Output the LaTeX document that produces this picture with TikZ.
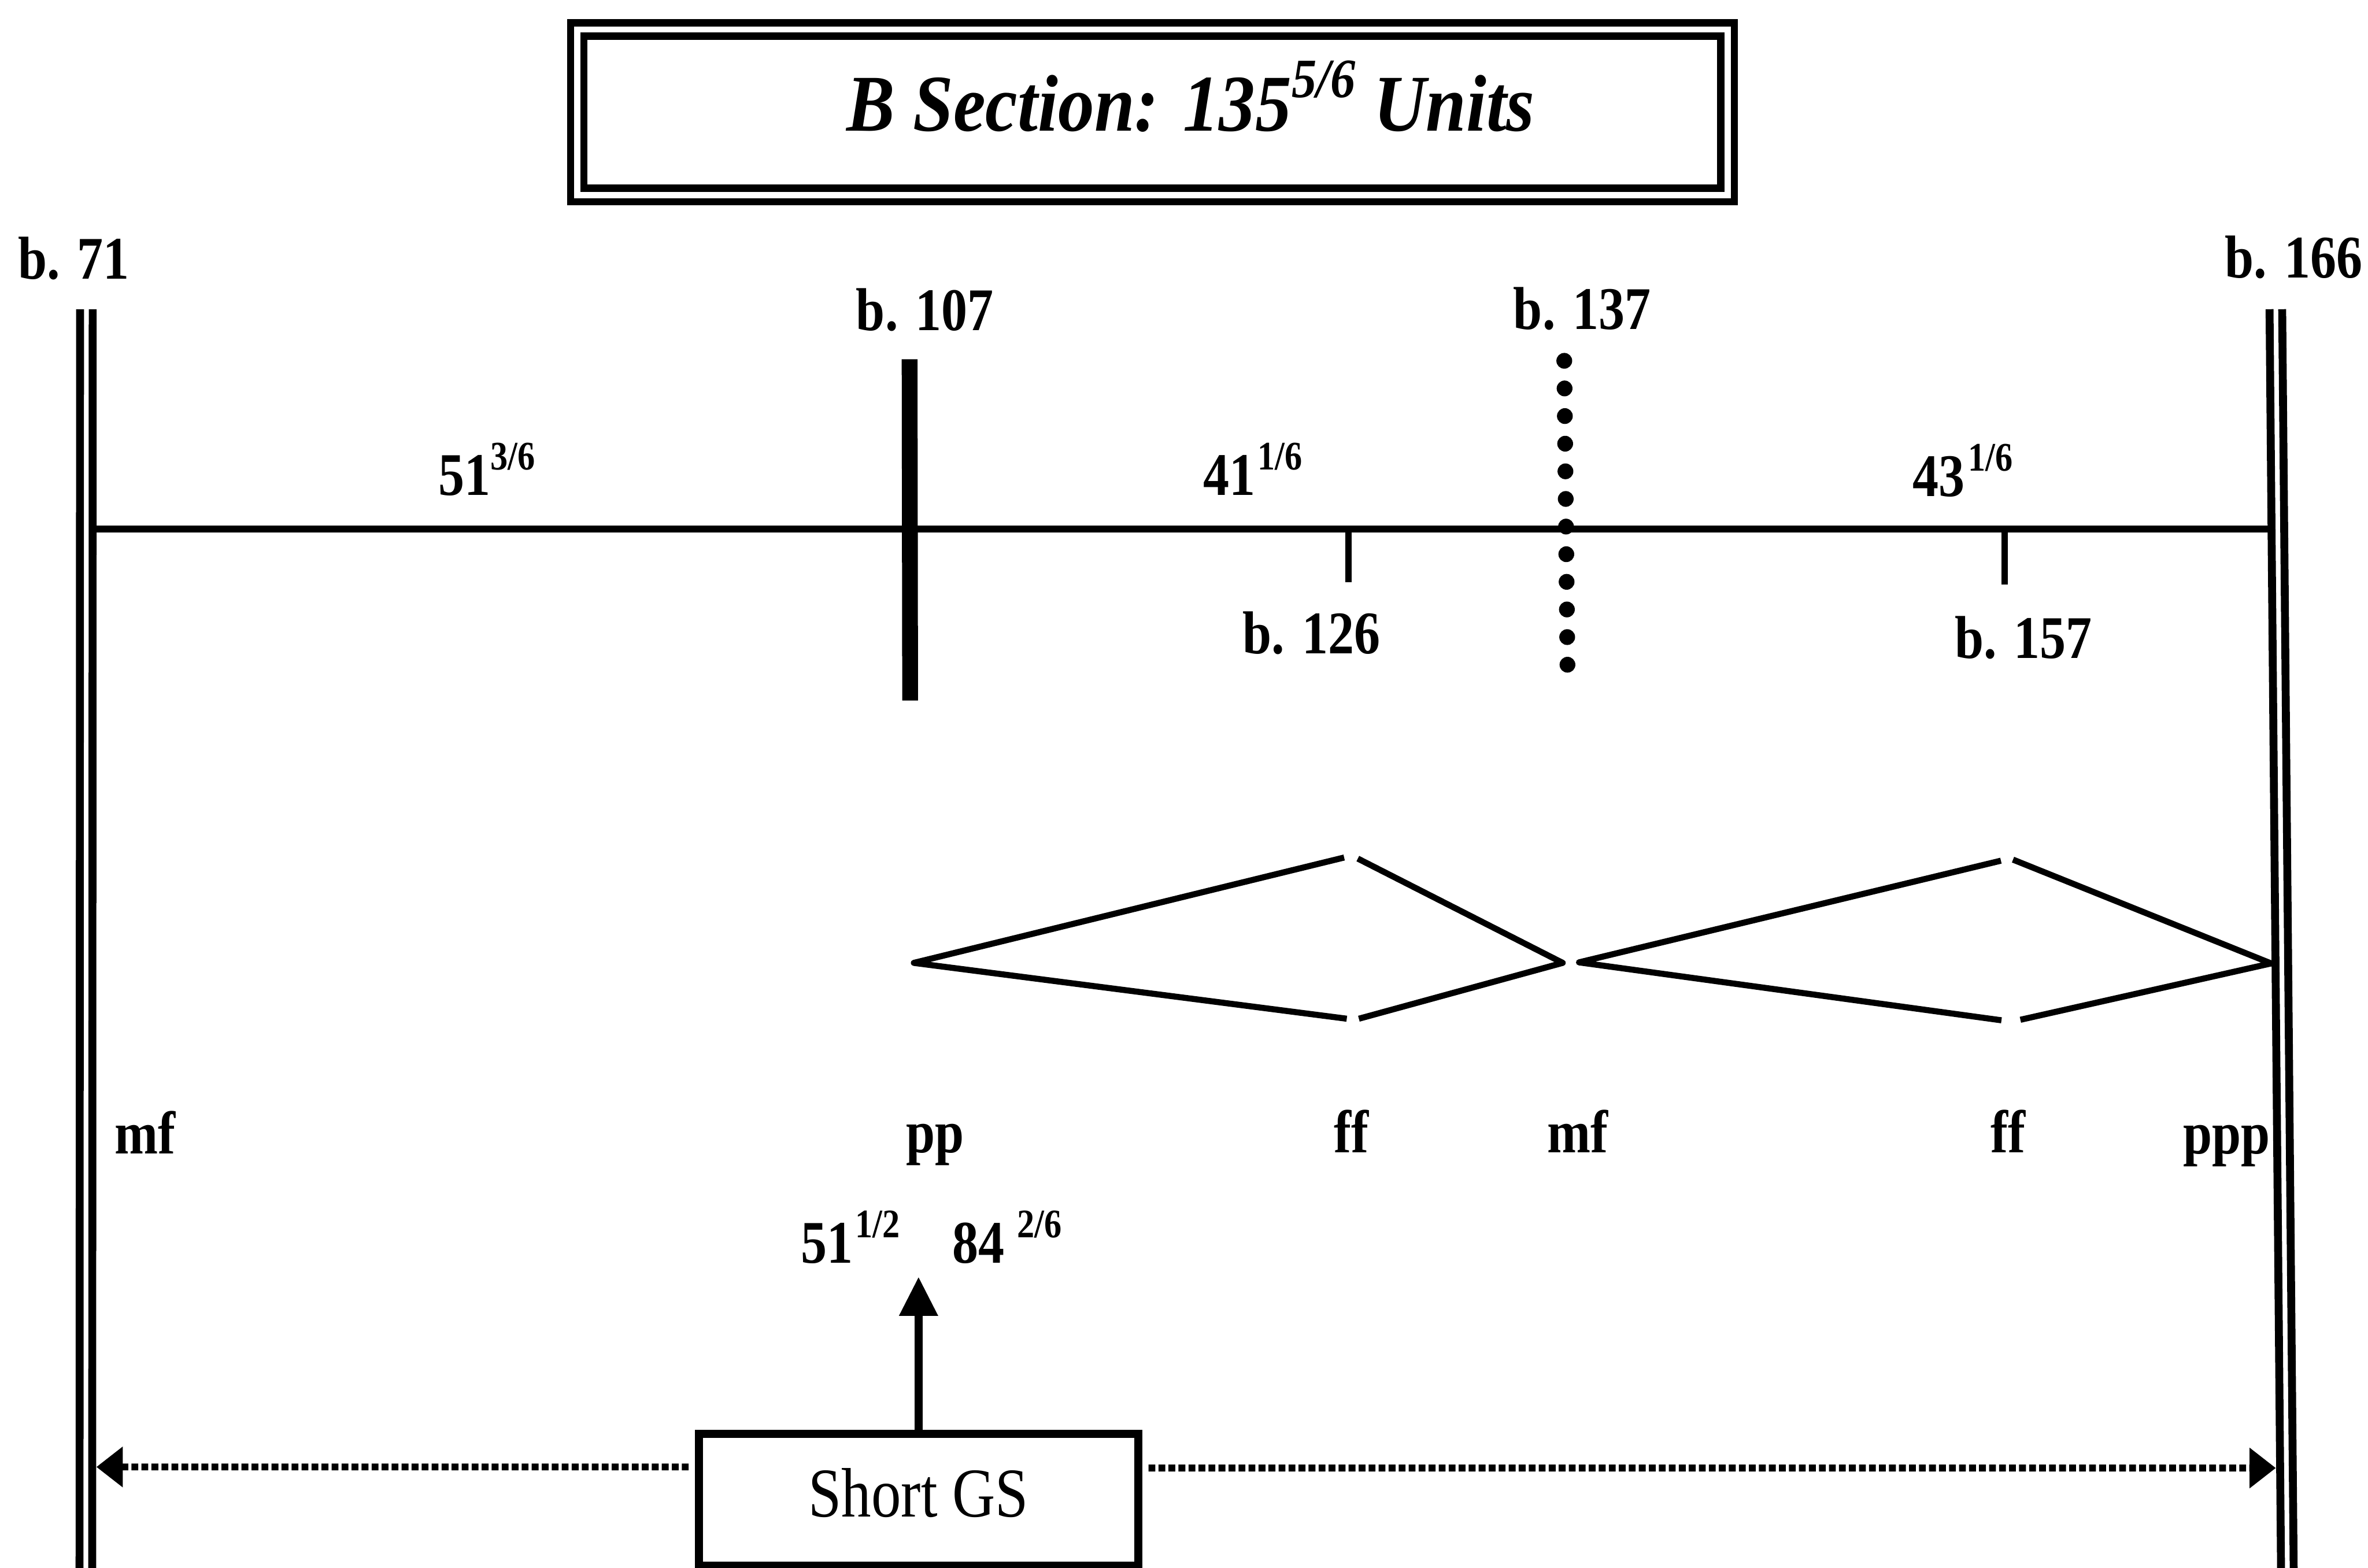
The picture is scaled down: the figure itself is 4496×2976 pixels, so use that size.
\documentclass[tikz,border=0pt]{standalone}
\usepackage{fontspec}
\setmainfont{Liberation Serif}
\newfontfamily\lblfont[FakeStretch=0.86]{Liberation Serif}
\newfontfamily\ttlfont[FakeStretch=0.9]{Liberation Serif}
\newfontfamily\gsfont[FakeStretch=0.85]{Liberation Serif}
\usetikzlibrary{arrows.meta}
\newcommand\supx[1]{\raisebox{4.8mm}{\fontsize{21.9pt}{24pt}\selectfont #1}}
\tikzset{
  lbl/.style={inner sep=0pt, anchor=base, font=\lblfont\bfseries\fontsize{32.7pt}{36pt}\selectfont},
  lblw/.style={inner sep=0pt, anchor=base west, font=\lblfont\bfseries\fontsize{32.7pt}{36pt}\selectfont},
  barline/.style={line width=1.5mm},
  mainline/.style={line width=1.3mm},
  hairpin/.style={line width=1.15mm, line join=round},
  dotarrow/.style={line width=1.3mm, dash pattern=on 1.3mm off 0.6mm,
    -{Triangle[length=5mm,width=7.4mm]}},
}
\begin{document}
\begin{tikzpicture}[x=0.1mm,y=-0.1mm]
\useasboundingbox (0,0) rectangle (4496,2976);

% title box
\node[draw, double, double distance=1.2mm, line width=1.35mm,
      minimum width=218.4mm, minimum height=31.4mm, inner sep=0pt] (tbox) at (2188,213) {};
\node[inner sep=0pt, anchor=base west,
      font=\ttlfont\bfseries\itshape\fontsize{43.5pt}{48pt}\selectfont] (title) at (1607,249)
  {B Section: 135\raisebox{6.4mm}{\fontsize{30pt}{32pt}\selectfont 5/6} Units};

% outer double bars
\draw[barline] (152,587) -- (151,2995);
\draw[barline] (176,587) -- (175,2995);
\draw[barline] (4309,587) -- (4331,2995);
\draw[barline] (4333,587) -- (4355,2995);

% bar labels
\node[lbl] (b71) at (140,530) {b. 71};
\node[lbl] (b166) at (4355,527) {b. 166};
\node[lbl] (b107) at (1756,627) {b. 107};
\node[lbl] (b137) at (3004,625) {b. 137};
\node[lbl] (b126) at (2490,1241) {b. 126};
\node[lbl] (b157) at (3842,1250) {b. 157};

% main time line
\draw[mainline] (183,1004) -- (4315,1004);
% b.107 thick bar
\draw[line width=3.0mm] (1727,682) -- (1728,1330);
% ticks
\draw[line width=1.2mm] (2560,1004) -- (2560,1105);
\draw[line width=1.2mm] (3806,1004) -- (3806,1110);
% b.137 dotted bar
\foreach \i in {0,...,11}
  \fill ({2970+0.55*\i},{685+52.45*\i}) circle (1.5mm);

% durations
\node[lblw] (d1) at (832,940) {51\supx{3/6}};
\node[lblw] (d2) at (2284,940) {41\hspace{0.4mm}\supx{1/6}};
\node[lblw] (d3) at (3631,942) {43\hspace{0.6mm}\supx{1/6}};

% hairpins
\draw[hairpin] (2552,1628) -- (1735,1828) -- (2557,1934);
\draw[hairpin] (2578,1630) -- (2967,1828) -- (2580,1934);
\draw[hairpin] (3799,1634) -- (2998,1827) -- (3800,1937);
\draw[hairpin] (3822,1632) -- (4312,1829) -- (3836,1936);

% dynamics
\node[lbl] (mf1) at (276,2190) {mf};
\node[lbl] (pp) at (1775,2188) {pp};
\node[lbl] (ff1) at (2566,2188) {ff};
\node[lbl] (mf2) at (2996,2188) {mf};
\node[lbl] (ff2) at (3813,2188) {ff};
\node[lbl] (ppp) at (4228,2190) {ppp};

% golden section numbers
\node[lblw] (gsnum) at (1520,2398) {51\hspace{0.4mm}\supx{1/2}\hspace{10mm}84\hspace{2.4mm}\supx{2/6}};

% Short GS box
\node[draw, line width=1.5mm, minimum width=83.4mm, minimum height=25mm, inner sep=0pt,
      text height=8.8mm, text depth=2.2mm,
      font=\gsfont\fontsize{37.8pt}{40pt}\selectfont] (gs) at (1744,2847) {Short GS};

\coordinate (uptip) at (1744,2424);
\coordinate (ltip) at (183,2785);
\coordinate (rtip) at (4321,2787);

\draw[line width=1.5mm, -{Triangle[length=7.4mm,width=7mm]}] (gs.north) -- (gs.north |- uptip);
\draw[dotarrow, shorten <=1.2mm] ([yshift=6.2mm]gs.west) -- (ltip);
\draw[dotarrow, shorten <=1.2mm] ([yshift=6mm]gs.east) -- (rtip);
\end{tikzpicture}
\end{document}
